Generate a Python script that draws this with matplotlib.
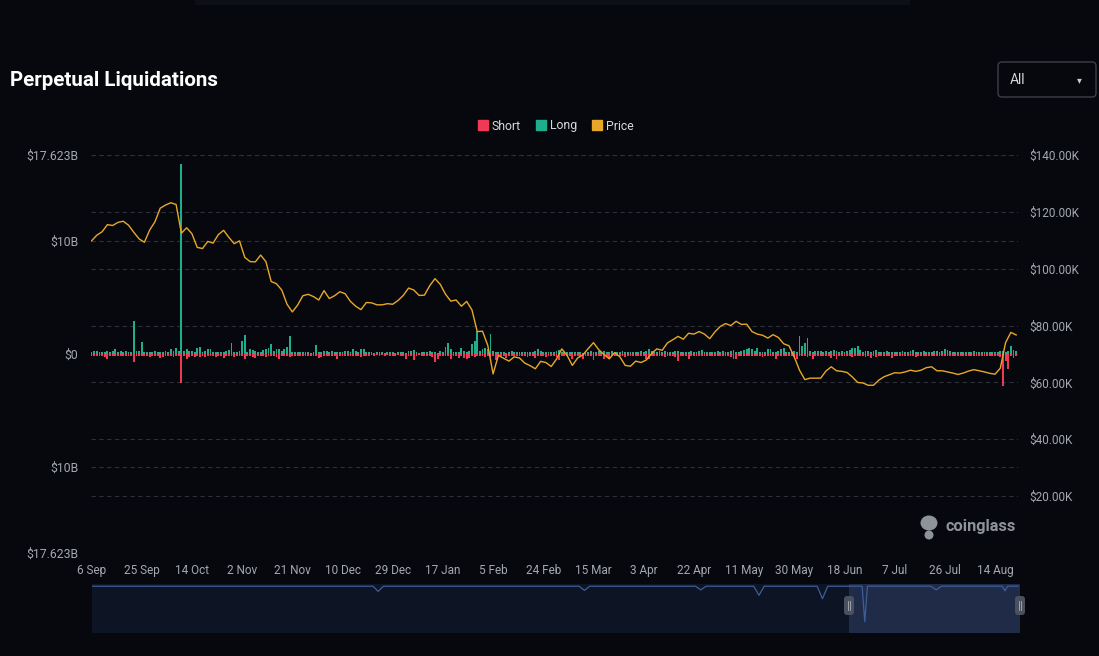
import numpy as np
import pandas as pd
import matplotlib
matplotlib.use("Agg")
import matplotlib.pyplot as plt
from matplotlib.patches import FancyBboxPatch, Rectangle, Ellipse
from matplotlib.lines import Line2D

# ---------------- data ----------------
start = pd.Timestamp("2025-09-06")
days = pd.date_range(start, periods=351, freq="D")

long_B = [
    0.20, 0.25, 0.30, 0.20, 0.15, 0.20, 0.25, 0.20, 0.30, 0.45,
    0.20, 0.25, 0.15, 0.30, 0.20, 0.15, 2.90, 0.25, 0.30, 1.05,
    0.20, 0.15, 0.20, 0.15, 0.25, 0.20, 0.15, 0.20, 0.30, 0.20,
    0.45, 0.25, 0.50, 0.30, 16.80, 0.30, 0.45, 0.25, 0.30, 0.20,
    0.55, 0.65, 0.20, 0.25, 0.40, 0.40, 0.20, 0.15, 0.20, 0.15,
    0.20, 0.30, 0.35, 0.95, 0.20, 0.15, 0.25, 1.15, 1.65, 0.20,
    0.45, 0.35, 0.25, 0.20, 0.15, 0.35, 0.40, 0.55, 0.90, 0.30,
    0.40, 0.45, 0.30, 0.40, 0.65, 1.55, 0.15, 0.20, 0.15, 0.20,
    0.15, 0.20, 0.15, 0.10, 0.15, 0.80, 0.15, 0.20, 0.30, 0.25,
    0.15, 0.30, 0.20, 0.15, 0.20, 0.15, 0.30, 0.25, 0.20, 0.45,
    0.30, 0.15, 0.40, 0.40, 0.15, 0.20, 0.15, 0.10, 0.15, 0.20,
    0.15, 0.10, 0.15, 0.20, 0.15, 0.10, 0.15, 0.20, 0.15, 0.10,
    0.30, 0.30, 0.35, 0.15, 0.10, 0.15, 0.20, 0.15, 0.30, 0.20,
    0.15, 0.10, 0.30, 0.20, 0.65, 0.95, 0.40, 0.20, 0.15, 0.20,
    0.55, 0.30, 0.20, 0.25, 0.85, 1.15, 2.00, 0.30, 0.40, 0.55,
    0.45, 1.75, 0.25, 0.15, 0.20, 0.15, 0.20, 0.10, 0.15, 0.30,
    0.20, 0.15, 0.20, 0.15, 0.20, 0.15, 0.20, 0.15, 0.30, 0.45,
    0.25, 0.20, 0.15, 0.20, 0.15, 0.20, 0.25, 0.35, 0.20, 0.15,
    0.20, 0.15, 0.20, 0.15, 0.20, 0.15, 0.10, 0.15, 0.20, 0.30,
    0.15, 0.20, 0.25, 0.20, 0.30, 0.20, 0.15, 0.30, 0.20, 0.15,
    0.20, 0.30, 0.15, 0.20, 0.15, 0.20, 0.15, 0.20, 0.25, 0.15,
    0.30, 0.40, 0.25, 0.20, 0.15, 0.30, 0.20, 0.25, 0.20, 0.15,
    0.20, 0.25, 0.30, 0.15, 0.20, 0.15, 0.20, 0.30, 0.20, 0.15,
    0.30, 0.35, 0.20, 0.15, 0.20, 0.15, 0.20, 0.25, 0.20, 0.30,
    0.20, 0.15, 0.25, 0.35, 0.15, 0.20, 0.30, 0.35, 0.45, 0.55,
    0.40, 0.25, 0.55, 0.20, 0.15, 0.20, 0.45, 0.40, 0.20, 0.15,
    0.25, 0.45, 0.55, 0.20, 0.15, 0.20, 0.30, 0.20, 1.55, 0.75,
    1.00, 1.45, 0.25, 0.20, 0.30, 0.25, 0.30, 0.20, 0.25, 0.20,
    0.30, 0.35, 0.30, 0.20, 0.25, 0.20, 0.30, 0.35, 0.55, 0.50,
    0.70, 0.35, 0.20, 0.25, 0.30, 0.20, 0.25, 0.35, 0.20, 0.15,
    0.20, 0.25, 0.15, 0.20, 0.15, 0.20, 0.15, 0.30, 0.20, 0.15,
    0.25, 0.35, 0.20, 0.15, 0.20, 0.25, 0.15, 0.20, 0.15, 0.25,
    0.30, 0.20, 0.25, 0.40, 0.35, 0.25, 0.20, 0.15, 0.20, 0.15,
    0.20, 0.15, 0.20, 0.15, 0.25, 0.20, 0.15, 0.20, 0.15, 0.20,
    0.15, 0.20, 0.15, 0.20, 0.25, 0.30, 0.15, 0.25, 0.70, 0.35, 0.30,
]

short_B = [
    0.15, 0.20, 0.15, 0.20, 0.15, 0.25, 0.45, 0.20, 0.15, 0.20,
    0.15, 0.20, 0.15, 0.20, 0.15, 0.20, 0.70, 0.20, 0.15, 0.20,
    0.15, 0.20, 0.25, 0.20, 0.15, 0.20, 0.35, 0.25, 0.20, 0.15,
    0.20, 0.25, 0.20, 0.15, 2.60, 0.20, 0.40, 0.25, 0.20, 0.30,
    0.20, 0.25, 0.20, 0.30, 0.20, 0.15, 0.20, 0.25, 0.20, 0.15,
    0.35, 0.20, 0.15, 0.20, 0.25, 0.20, 0.15, 0.20, 0.40, 0.20,
    0.15, 0.30, 0.35, 0.20, 0.15, 0.20, 0.25, 0.20, 0.15, 0.20,
    0.25, 0.40, 0.20, 0.15, 0.20, 0.25, 0.15, 0.20, 0.15, 0.20,
    0.15, 0.20, 0.15, 0.20, 0.15, 0.20, 0.38, 0.30, 0.15, 0.20,
    0.15, 0.20, 0.15, 0.40, 0.20, 0.15, 0.20, 0.15, 0.20, 0.15,
    0.20, 0.15, 0.25, 0.15, 0.20, 0.15, 0.10, 0.15, 0.10, 0.15,
    0.10, 0.15, 0.10, 0.15, 0.20, 0.15, 0.10, 0.15, 0.20, 0.42,
    0.15, 0.20, 0.55, 0.15, 0.10, 0.15, 0.20, 0.15, 0.20, 0.30,
    0.70, 0.40, 0.15, 0.20, 0.15, 0.20, 0.40, 0.15, 0.20, 0.35,
    0.20, 0.35, 0.40, 0.35, 0.20, 0.25, 0.20, 0.15, 0.20, 0.25,
    0.20, 0.30, 0.20, 0.55, 0.20, 0.15, 0.20, 0.35, 0.20, 0.15,
    0.20, 0.15, 0.20, 0.15, 0.20, 0.30, 0.20, 0.15, 0.35, 0.20,
    0.15, 0.20, 0.25, 0.20, 0.15, 0.20, 0.25, 0.55, 0.20, 0.15,
    0.20, 0.15, 0.40, 0.20, 0.15, 0.30, 0.45, 0.20, 0.15, 0.20,
    0.55, 0.20, 0.15, 0.20, 0.40, 0.30, 0.45, 0.20, 0.15, 0.20,
    0.15, 0.20, 0.25, 0.20, 0.15, 0.20, 0.15, 0.20, 0.15, 0.20,
    0.45, 0.40, 0.20, 0.15, 0.20, 0.15, 0.20, 0.25, 0.20, 0.15,
    0.20, 0.30, 0.62, 0.20, 0.15, 0.20, 0.40, 0.20, 0.15, 0.20,
    0.15, 0.20, 0.15, 0.20, 0.15, 0.20, 0.15, 0.20, 0.15, 0.20,
    0.15, 0.20, 0.25, 0.40, 0.40, 0.20, 0.15, 0.20, 0.15, 0.20,
    0.15, 0.20, 0.15, 0.20, 0.25, 0.20, 0.15, 0.20, 0.20, 0.40,
    0.15, 0.20, 0.15, 0.20, 0.15, 0.20, 0.25, 0.45, 0.20, 0.15,
    0.20, 0.25, 0.20, 0.45, 0.20, 0.15, 0.20, 0.15, 0.20, 0.15,
    0.35, 0.20, 0.40, 0.20, 0.15, 0.20, 0.15, 0.20, 0.25, 0.15,
    0.20, 0.15, 0.20, 0.25, 0.20, 0.35, 0.20, 0.30, 0.15, 0.20,
    0.15, 0.20, 0.15, 0.35, 0.20, 0.15, 0.20, 0.15, 0.20, 0.15,
    0.20, 0.15, 0.30, 0.20, 0.15, 0.20, 0.15, 0.20, 0.15, 0.20,
    0.15, 0.20, 0.15, 0.20, 0.15, 0.20, 0.15, 0.20, 0.15, 0.20,
    0.15, 0.20, 0.15, 0.20, 0.15, 0.20, 0.15, 0.20, 0.15, 0.20,
    0.15, 0.20, 0.15, 0.20, 0.30, 2.80, 0.60, 1.35, 0.20, 0.35, 0.20,
]

price_dates = pd.date_range(start, periods=176, freq="2D")
price_k = [
    109.8, 111.8, 113.0, 115.5, 115.2, 116.3, 116.7, 115.3, 112.8, 110.5,
    109.3, 113.6, 116.5, 121.3, 122.4, 123.2, 122.6, 112.5, 114.4, 112.3,
    107.5, 107.1, 109.6, 109.0, 112.0, 113.5, 111.0, 108.8, 109.8, 104.0,
    102.5, 102.4, 104.8, 102.5, 95.5, 94.7, 92.5, 87.5, 84.8, 87.2,
    90.5, 91.0, 90.2, 89.0, 92.3, 89.5, 90.5, 91.9, 91.2, 88.5,
    86.8, 85.6, 88.1, 88.0, 87.3, 87.3, 87.7, 87.5, 88.8, 90.6,
    93.2, 92.5, 90.6, 90.7, 94.0, 96.5, 94.5, 91.0, 88.6, 89.0,
    86.8, 88.5, 85.5, 77.9, 78.0, 73.0, 63.0, 69.5, 68.5, 67.5,
    69.0, 68.6, 66.8, 65.9, 64.8, 67.4, 67.0, 65.6, 68.2, 71.8,
    69.5, 66.0, 68.6, 69.7, 71.9, 74.0, 71.5, 69.8, 68.3, 70.5,
    69.0, 66.0, 65.7, 67.5, 67.0, 67.9, 70.2, 71.8, 71.3, 73.9,
    75.0, 76.2, 75.2, 77.3, 77.0, 77.9, 77.0, 75.4, 77.8, 79.7,
    80.7, 80.0, 81.5, 80.4, 80.5, 77.9, 77.0, 76.6, 75.6, 76.8,
    75.8, 73.6, 72.9, 69.0, 64.3, 61.0, 61.5, 61.5, 61.5, 64.0,
    65.5, 64.1, 63.9, 63.5, 61.9, 60.0, 59.8, 59.0, 59.0, 60.8,
    62.0, 62.7, 63.4, 63.3, 63.7, 64.3, 63.9, 64.3, 65.2, 65.5,
    64.1, 64.1, 63.7, 63.3, 62.8, 63.3, 64.0, 64.5, 64.1, 63.7,
    63.2, 62.9, 65.0, 74.0, 77.6, 76.7,
]

tick_dates = pd.date_range(start, periods=19, freq="19D")
tick_labels = [f"{d.day} {d:%b}" for d in tick_dates]

left_lim = 17.623
left_ticks = [-17.623, -10, 0, 10, 17.623]
left_labels = ["$17.623B", "$10B", "$0", "$10B", "$17.623B"]
right_ticks = [20, 40, 60, 80, 100, 120, 140]
right_labels = ["$20.00K", "$40.00K", "$60.00K", "$80.00K",
                "$100.00K", "$120.00K", "$140.00K"]

# navigator overview line (relative height 0..1)
nav_dates = pd.to_datetime([
    "2025-09-06", "2025-12-21", "2025-12-23", "2025-12-25", "2026-03-09",
    "2026-03-11", "2026-03-13", "2026-04-22", "2026-04-24", "2026-04-26",
    "2026-05-14", "2026-05-16", "2026-05-18", "2026-06-07", "2026-06-09",
    "2026-06-11", "2026-06-24", "2026-06-25", "2026-06-26", "2026-07-20",
    "2026-07-22", "2026-07-24", "2026-08-16", "2026-08-17", "2026-08-18",
    "2026-08-22"])
nav_vals = [0.955, 0.955, 0.85, 0.955, 0.955,
            0.87, 0.955, 0.955, 0.88, 0.955,
            0.955, 0.77, 0.955, 0.955, 0.70,
            0.955, 0.955, 0.23, 0.955, 0.955,
            0.88, 0.955, 0.955, 0.86, 0.955,
            0.955]
nav_sel_start = pd.Timestamp("2026-06-19")

# ---------------- style ----------------
BG = "#06080d"
LONG = "#1fae8c"
SHORT = "#ee3a55"
PRICE = "#e7a82a"
GRID = "#2b2f37"
TXT = "#a4a8b0"
FONT = ["Roboto", "DejaVu Sans"]
plt.rcParams["font.family"] = FONT

W, H = 1099, 656
fig = plt.figure(figsize=(W / 100, H / 100), dpi=100, facecolor=BG)

# overlay in pixel coordinates for decorations
ov = fig.add_axes([0, 0, 1, 1], zorder=3)
ov.set_xlim(0, W)
ov.set_ylim(H, 0)
ov.axis("off")
ov.patch.set_visible(False)
ov.add_patch(Rectangle((195, 0), 715, 5, color="#0c0f15", lw=0))
ov.text(10, 80, "Perpetual Liquidations", fontsize=14.8, fontweight="bold",
        color="white", va="center", ha="left")
ov.add_patch(FancyBboxPatch((998, 62), 98, 35, boxstyle="round,pad=0,rounding_size=4",
                            fc=BG, ec="#3a3f48", lw=1))
ov.text(1010, 80, "All", fontsize=10, color="#d4d7dc", va="center", ha="left")
ov.text(1079, 80, "\u25BE", fontsize=7, color="#c8cbd0", va="center", ha="center",
        family="DejaVu Sans")
# watermark
ov.add_patch(Ellipse((929, 523), 17, 15, color="#8e939a", lw=0))
ov.add_patch(Ellipse((929, 535), 9, 9, color="#8e939a", lw=0))
ov.text(945, 527, "coinglass", fontsize=11.8, fontweight="bold", color="#8e939a",
        va="center", ha="left")

# main axes
L, R, T, B = 91, 1018, 155, 553
ax = fig.add_axes([L / W, 1 - B / H, (R - L) / W, (B - T) / H], zorder=2)
ax.set_facecolor("none")
ax.bar(days, long_B, width=0.7, color=LONG, lw=0, zorder=3)
ax.bar(days, [-v for v in short_B], width=0.7, color=SHORT, lw=0, zorder=3)
ax.set_ylim(-left_lim, left_lim)
x_end = start + pd.Timedelta(days=350.7)
ax.set_xlim(start - pd.Timedelta(hours=5), x_end)
for s in ax.spines.values():
    s.set_visible(False)

grid_levels = list(left_ticks) + [(p / 140.0) * 2 * left_lim - left_lim for p in right_ticks]
for g in grid_levels:
    ax.axhline(g, color=GRID, lw=0.8, ls=(0, (4, 3)), zorder=1)

ax.set_yticks(left_ticks)
ax.set_yticklabels(left_labels)
ax.set_xticks(tick_dates)
ax.set_xticklabels(tick_labels)
ax.tick_params(axis="y", length=0, pad=9, labelsize=8.8, labelcolor=TXT)
ax.tick_params(axis="x", length=0, pad=8, labelsize=8.5, labelcolor=TXT)

ax2 = ax.twinx()
ax2.plot(price_dates, price_k, color=PRICE, lw=1.0, zorder=4)
ax2.set_ylim(0, 140)
ax2.set_yticks(right_ticks)
ax2.set_yticklabels(right_labels)
ax2.tick_params(axis="y", length=0, pad=8, labelsize=8.5, labelcolor=TXT)
for s in ax2.spines.values():
    s.set_visible(False)

# legend
handles = [Line2D([], [], marker="s", ls="none", markersize=6.8, color=c, label=l)
           for c, l in [(SHORT, "Short"), (LONG, "Long"), (PRICE, "Price")]]
fig.legend(handles=handles, loc="center", bbox_to_anchor=(555 / W, 1 - 126 / H), ncol=3,
           frameon=False, fontsize=8.8, labelcolor="#d6d9de", handletextpad=0.25,
           columnspacing=1.1, handlelength=1.0)

# navigator
nav = fig.add_axes([92 / W, 1 - 633 / H, 928 / W, 49 / H], zorder=1)
nav.axis("off")
nav.add_patch(Rectangle((0, 0), 1, 1, transform=nav.transAxes, color="#0d1424", lw=0))
nav.axvspan(nav_sel_start, x_end + pd.Timedelta(days=1), color="#1f2b47", lw=0)
nav.plot(nav_dates, nav_vals, color="#3f5d99", lw=0.9)
nav.set_xlim(start - pd.Timedelta(hours=5), x_end)
nav.set_ylim(0, 1)
for hx in (849, 1020):
    ov.add_patch(FancyBboxPatch((hx - 5, 596), 10, 19, boxstyle="round,pad=0,rounding_size=3",
                                fc="#4a505c", ec="none", zorder=5))
    ov.plot([hx - 1.3, hx - 1.3], [601, 610], color="#aab0ba", lw=0.6, zorder=6)
    ov.plot([hx + 1.3, hx + 1.3], [601, 610], color="#aab0ba", lw=0.6, zorder=6)

fig.savefig("out.png", dpi=100, facecolor=BG)
